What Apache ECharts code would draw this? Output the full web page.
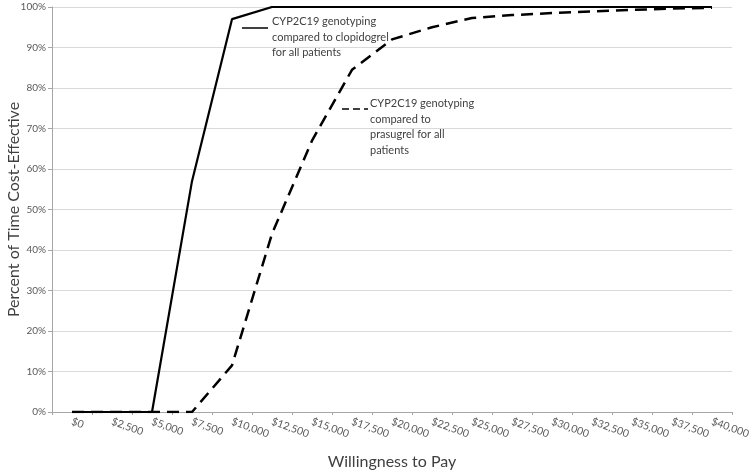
<!DOCTYPE html>
<html>
<head>
<meta charset="utf-8">
<script src="https://cdn.jsdelivr.net/npm/echarts@6/dist/echarts.min.js"></script>
<style>
  html, body { margin: 0; padding: 0; background: #fff; }
  #chart { width: 750px; height: 472px; }
</style>
</head>
<body>
<div id="chart"></div>
<script>
// willingness to pay categories
var wtpLabels = ['$0', '$2,500', '$5,000', '$7,500', '$10,000', '$12,500', '$15,000', '$17,500',
  '$20,000', '$22,500', '$25,000', '$27,500', '$30,000', '$32,500', '$35,000', '$37,500', '$40,000'];

// percent of time cost-effective
var clopidogrel = [0, 0, 0, 57, 97, 100, 100, 100, 100, 100, 100, 100, 100, 100, 100, 100, 100];
var prasugrel = [0, 0, 0, 0, 11.5, 44, 67, 84.5, 92, 95, 97.3, 98, 98.5, 98.9, 99.3, 99.6, 99.8];

var clopName = 'CYP2C19 genotyping\ncompared to clopidogrel\nfor all patients';
var prasName = 'CYP2C19 genotyping\ncompared to\nprasugrel for all\npatients';

var font = 'Lato, "Open Sans", sans-serif';

var myChart = echarts.init(document.getElementById('chart'));
myChart.setOption({
    animation: false,
    backgroundColor: '#fff',
    grid: { left: 52, right: 18, top: 7, bottom: 60, containLabel: false, outerBoundsMode: 'none' },
    xAxis: {
        type: 'category',
        data: wtpLabels,
        boundaryGap: true,
        name: 'Willingness to Pay',
        nameLocation: 'middle',
        nameGap: 42,
        nameMoveOverlap: false,
        nameTextStyle: { fontFamily: font, fontSize: 16, color: '#404040' },
        axisLine: { lineStyle: { color: '#a6a6a6', width: 1 } },
        axisTick: { show: true, length: 3, lineStyle: { color: '#a6a6a6' } },
        axisLabel: {
            rotate: -20,
            interval: 0,
            margin: 9,
            fontFamily: font,
            fontSize: 10.5,
            color: '#595959'
        },
        splitLine: { show: false }
    },
    yAxis: {
        type: 'value',
        min: 0,
        max: 100,
        interval: 10,
        name: 'Percent of Time Cost-Effective',
        nameLocation: 'middle',
        nameGap: 30,
        nameMoveOverlap: false,
        nameTextStyle: { fontFamily: font, fontSize: 16, color: '#404040' },
        axisLine: { show: true, lineStyle: { color: '#a6a6a6', width: 1 } },
        axisTick: { show: true, length: 4, lineStyle: { color: '#a6a6a6' } },
        axisLabel: {
            formatter: '{value}%',
            fontFamily: font,
            fontSize: 10,
            color: '#595959',
            margin: 6
        },
        splitLine: { lineStyle: { color: '#d9d9d9', width: 1 } }
    },
    series: [{
        name: 'clopidogrel',
        type: 'line',
        data: clopidogrel,
        showSymbol: false,
        z: 3,
        lineStyle: { color: '#000', width: 2.2, type: 'solid' }
    }, {
        name: 'prasugrel',
        type: 'line',
        data: prasugrel,
        showSymbol: false,
        z: 2,
        lineStyle: { color: '#000', width: 2.5, type: [12, 7] }
    }],
    graphic: [
        // solid series label
        { type: 'line', shape: { x1: 242, y1: 28, x2: 268, y2: 28 },
          style: { stroke: '#000', lineWidth: 1.5 } },
        { type: 'text', left: 272, top: 14,
          style: { text: clopName, fontFamily: font, fontSize: 11, lineHeight: 15.5, fill: '#404040' } },
        // dashed series label
        { type: 'line', shape: { x1: 342, y1: 109, x2: 368, y2: 109 },
          style: { stroke: '#000', lineWidth: 1.5, lineDash: [7, 4] } },
        { type: 'text', left: 370, top: 96,
          style: { text: prasName, fontFamily: font, fontSize: 11, lineHeight: 15.5, fill: '#404040' } }
    ]
});
</script>
</body>
</html>
